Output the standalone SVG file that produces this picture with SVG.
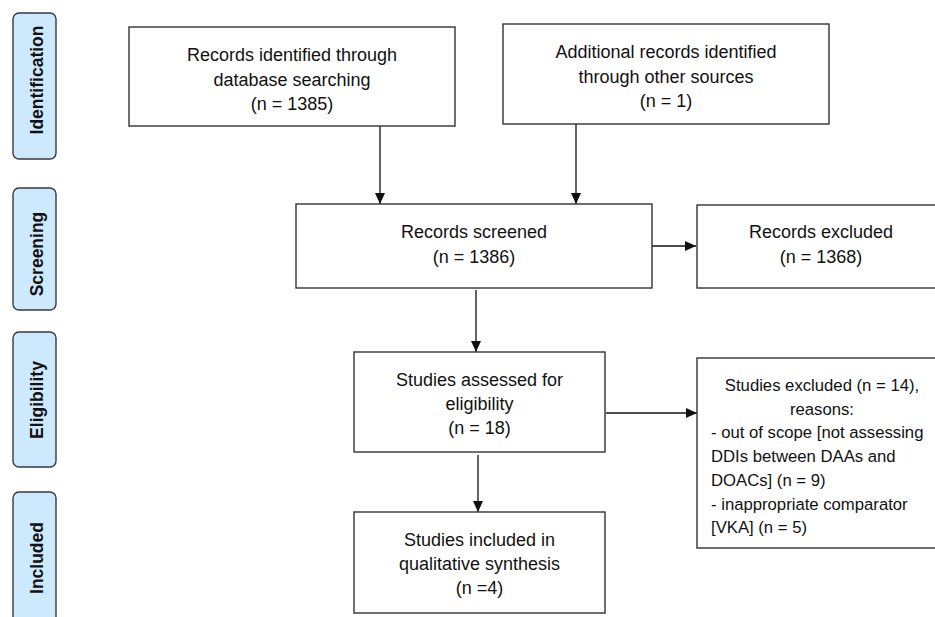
<svg xmlns="http://www.w3.org/2000/svg" width="935" height="617" viewBox="0 0 935 617">
<style>
.box{fill:#fff;stroke:#333;stroke-width:1.4}
.pill{fill:#cde9fd;stroke:#3a3a3a;stroke-width:1.4}
.t{font-family:"Liberation Sans",Arial,sans-serif;font-size:18px;fill:#111;text-anchor:middle}
.s{font-family:"Liberation Sans",Arial,sans-serif;font-size:16.7px;fill:#111}
.p{font-family:"Liberation Sans",Arial,sans-serif;font-size:17.5px;font-weight:bold;fill:#111;text-anchor:middle}
.c{stroke:#111;stroke-width:1.3;fill:none;marker-end:url(#ah)}
</style>
<defs>
<marker id="ah" markerUnits="userSpaceOnUse" markerWidth="12" markerHeight="12" viewBox="0 0 12 12" refX="11" refY="6" orient="auto">
<path d="M0,1 L11,6 L0,11 Z" fill="#111"/>
</marker>
</defs>
<rect width="935" height="617" fill="#fff"/>
<g id="stage-identification"><rect class="pill" x="13" y="13" width="43" height="146" rx="6"/><text class="p" transform="translate(42.5,80) rotate(-90)">Identification</text></g>
<g id="stage-screening"><rect class="pill" x="13" y="188" width="43" height="122" rx="6"/><text class="p" transform="translate(42.5,254) rotate(-90)">Screening</text></g>
<g id="stage-eligibility"><rect class="pill" x="13" y="332" width="43" height="135" rx="6"/><text class="p" transform="translate(42.5,400) rotate(-90)">Eligibility</text></g>
<g id="stage-included"><rect class="pill" x="13" y="492" width="43" height="140" rx="6"/><text class="p" transform="translate(42.5,558) rotate(-90)">Included</text></g>
<g id="connectors">
<line class="c" x1="380" y1="126" x2="380" y2="204"/>
<line class="c" x1="576" y1="124" x2="576" y2="204"/>
<line class="c" x1="652" y1="246" x2="696" y2="246"/>
<line class="c" x1="476" y1="290" x2="476" y2="352"/>
<line class="c" x1="606" y1="413" x2="697" y2="413"/>
<line class="c" x1="478" y1="455" x2="478" y2="512"/>
</g>
<g id="records-database"><rect class="box" x="129" y="27" width="326" height="99"/>
<text class="t" x="292" y="60.5">Records identified through</text>
<text class="t" x="292" y="85.5">database searching</text>
<text class="t" x="292" y="110">(n = 1385)</text></g>
<g id="records-other"><rect class="box" x="503" y="24" width="326" height="100"/>
<text class="t" x="666" y="58">Additional records identified</text>
<text class="t" x="666" y="82.5">through other sources</text>
<text class="t" x="666" y="107">(n = 1)</text></g>
<g id="records-screened"><rect class="box" x="296" y="204" width="356" height="84"/>
<text class="t" x="474" y="238">Records screened</text>
<text class="t" x="474" y="263">(n = 1386)</text></g>
<g id="records-excluded"><rect class="box" x="697" y="205" width="250" height="83"/>
<text class="t" x="821" y="238">Records excluded</text>
<text class="t" x="821" y="263">(n = 1368)</text></g>
<g id="studies-assessed"><rect class="box" x="354" y="352" width="251" height="100"/>
<text class="t" x="479.5" y="386">Studies assessed for</text>
<text class="t" x="479.5" y="410">eligibility</text>
<text class="t" x="479.5" y="434">(n = 18)</text></g>
<g id="studies-excluded"><rect class="box" x="697" y="358" width="250" height="190"/>
<text class="s" x="822" y="391" text-anchor="middle">Studies excluded (n = 14),</text>
<text class="s" x="822" y="414.7" text-anchor="middle">reasons:</text>
<text class="s" x="711" y="438.4">- out of scope [not assessing</text>
<text class="s" x="711" y="462.1">DDIs between DAAs and</text>
<text class="s" x="711" y="485.8">DOACs] (n = 9)</text>
<text class="s" x="711" y="509.5">- inappropriate comparator</text>
<text class="s" x="711" y="533.2">[VKA] (n = 5)</text></g>
<g id="studies-included"><rect class="box" x="354" y="512" width="251" height="101"/>
<text class="t" x="479.5" y="546">Studies included in</text>
<text class="t" x="479.5" y="570">qualitative synthesis</text>
<text class="t" x="479.5" y="594">(n =4)</text></g>
</svg>
